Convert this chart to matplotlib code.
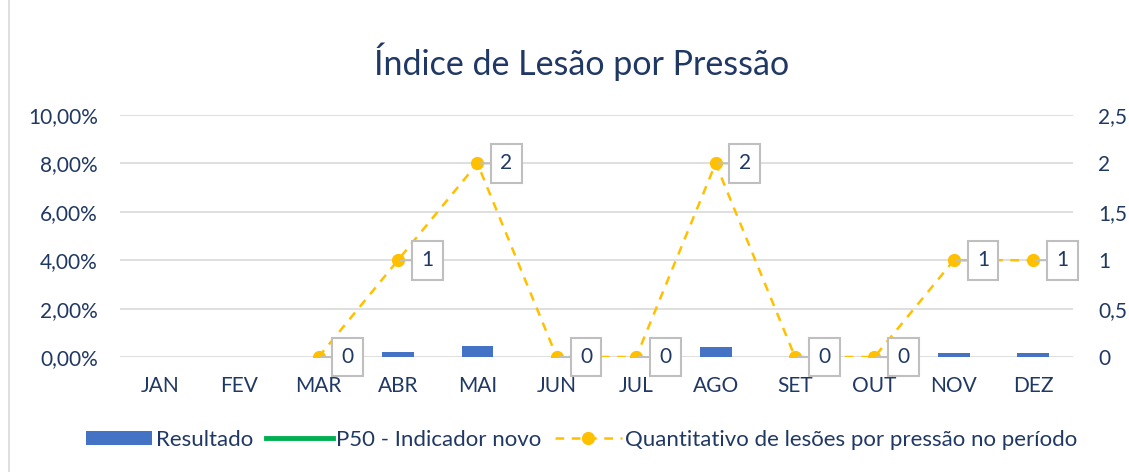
import numpy as np
import matplotlib
matplotlib.use("Agg")
import matplotlib.pyplot as plt
from matplotlib.lines import Line2D
from matplotlib.patches import Patch
from matplotlib.ticker import FuncFormatter

plt.rcParams["font.family"] = ["Lato", "DejaVu Sans"]

# ------------------------------------------------------------------
# Data
# ------------------------------------------------------------------
months = ["JAN", "FEV", "MAR", "ABR", "MAI", "JUN",
          "JUL", "AGO", "SET", "OUT", "NOV", "DEZ"]
resultado = [np.nan, np.nan, 0.0, 0.20, 0.45, 0.0,
             0.0, 0.40, 0.0, 0.0, 0.17, 0.17]          # %
lesoes = [np.nan, np.nan, 0, 1, 2, 0, 0, 2, 0, 0, 1, 1]  # count

TEXT = "#203864"
BLUE = "#4472C4"
GREEN = "#00B050"
YELLOW = "#FFC000"
GRID = "#D9D9D9"
FS = 15

fig = plt.figure(figsize=(11.29, 4.72), dpi=100)
ax = fig.add_axes([0.1063, 0.2436, 0.8441, 0.5128])
ax2 = ax.twinx()

x = np.arange(len(months))
ax.bar(x, resultado, width=0.4, color=BLUE, zorder=2)

ax.set_ylim(0, 10)
ax.set_yticks(np.arange(0, 10.01, 2))
ax.yaxis.set_major_formatter(FuncFormatter(lambda v, p: f"{v:.2f}%".replace(".", ",")))
ax.set_xlim(-0.5, len(months) - 0.5)
ax.set_xticks(x)
ax.set_xticklabels(months)
ax.grid(True, axis="y", color=GRID, linewidth=1.2, zorder=0)
ax.set_axisbelow(True)

ax2.plot(x, lesoes, color=YELLOW, linestyle=(0, (3.5, 3)), linewidth=1.8,
         marker="o", markersize=8.5, zorder=3)
ax2.set_ylim(0, 2.5)
ax2.set_yticks(np.arange(0, 2.51, 0.5))
ax2.yaxis.set_major_formatter(FuncFormatter(
    lambda v, p: (f"{v:g}").replace(".", ",")))

# callout labels
for xi, v in zip(x, lesoes):
    if np.isnan(v):
        continue
    ax2.annotate(f"{int(v)}", xy=(xi, v), xytext=(21, 0),
                 textcoords="offset points", ha="center", va="center",
                 fontsize=FS, color=TEXT, zorder=5,
                 bbox=dict(boxstyle="square,pad=0.45", fc="white", ec="#BFBFBF", lw=1.5),
                 arrowprops=dict(arrowstyle="-", color="#BFBFBF", lw=1.5,
                                 shrinkA=0, shrinkB=2))

for a in (ax, ax2):
    for s in a.spines.values():
        s.set_visible(False)
    a.tick_params(length=0, labelsize=FS, labelcolor=TEXT)
ax.tick_params(axis="y", pad=16)
ax2.tick_params(axis="y", pad=18)
ax.tick_params(axis="x", pad=14)

fig.text(0.515, 0.87, "Índice de Lesão por Pressão", ha="center", va="center",
         fontsize=24.5, color=TEXT)

handles = [
    Patch(facecolor=BLUE, label="Resultado"),
    Line2D([], [], color=GREEN, linewidth=3.5, label="P50 - Indicador novo"),
    Line2D([], [], color=YELLOW, linestyle=(0, (3.5, 3)), linewidth=1.8,
           marker="o", markersize=8.5, label="Quantitativo de lesões por pressão no período"),
]
fig.legend(handles=handles, loc="center", bbox_to_anchor=(0.515, 0.068), ncol=3,
           frameon=False, fontsize=FS + 1, labelcolor=TEXT, handlelength=3.0,
           handleheight=0.6, handletextpad=0.15, columnspacing=0.6)

# chart border on the left
fig.add_artist(Line2D([0.008, 0.008], [0, 1], transform=fig.transFigure,
                      color=GRID, linewidth=1.2))

fig.savefig("out.png", dpi=100)
